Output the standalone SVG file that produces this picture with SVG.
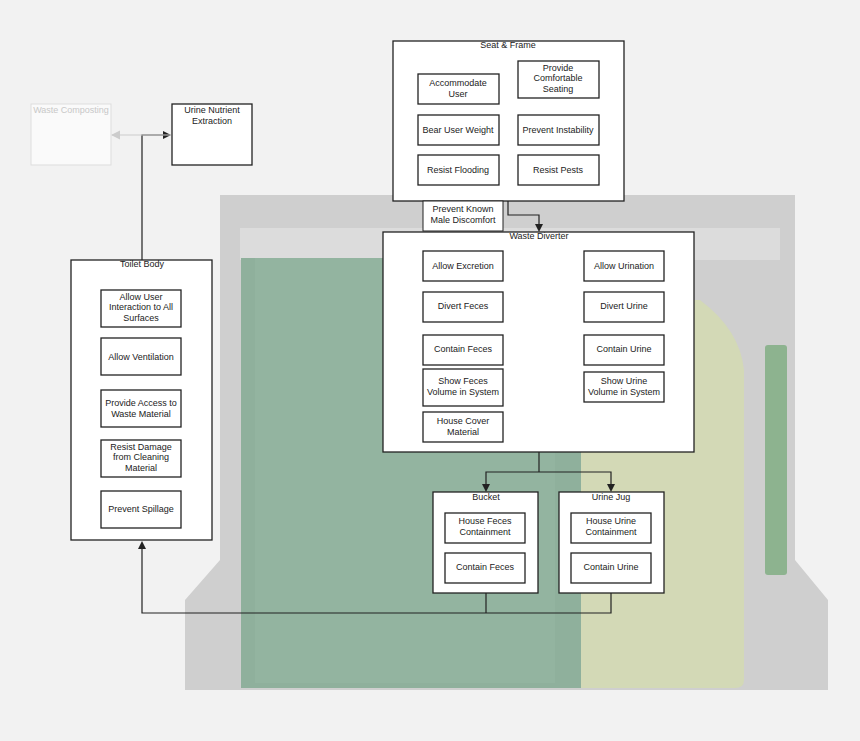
<svg xmlns="http://www.w3.org/2000/svg" width="860" height="741" viewBox="0 0 860 741">
<defs>
<style>
.b{fill:#fff;stroke:#222;stroke-width:1.3}
.t{font-family:"Liberation Sans",Arial,sans-serif;font-size:9px;fill:#222;text-anchor:middle}
.c{fill:none;stroke:#222;stroke-width:1.2}
</style>
<marker id="ag" viewBox="0 0 8 8" markerWidth="8" markerHeight="8" refX="7" refY="4" orient="auto"><path d="M0,0 L8,4 L0,8z" fill="#ccc"/></marker>
</defs>
<rect width="860" height="741" fill="#f2f2f2"/>
<g id="background">
<path d="M220,195 H795 V560 L828,600 V690 H185 V600 L220,560z" fill="#cfcfcf"/>
<rect x="240" y="228" width="540" height="32" fill="#dcdcdc"/>
<rect x="241" y="258" width="340" height="430" fill="#8fb09c"/>
<rect x="255" y="258" width="300" height="425" fill="#93b4a0"/>
<path d="M581,300 H700 Q740,330 744,370 V680 Q744,688 735,688 H581z" fill="#d3d9b6"/>
<rect x="765" y="345" width="22" height="230" rx="3" fill="#8db38f"/>
</g>
<g id="connectors">
<path class="c" d="M142,260 V135 H164"/>
<path d="M163,131 L171,135 L163,139z" fill="#222"/>
<path d="M171,135 H112" stroke="#ccc" stroke-width="1.2" marker-end="url(#ag)"/>
<path class="c" d="M508,201 V215 H539 V225"/>
<path d="M535,224 L543,224 L539,232z" fill="#222"/>
<path class="c" d="M539,452 V472 H486 V485 M539,472 H611 V485"/>
<path d="M482,484 L490,484 L486,492z M607,484 L615,484 L611,492z" fill="#222"/>
<path class="c" d="M486,593 V613 H142 V548 M611,593 V613 H486"/>
<path d="M138,549 L146,549 L142,541z" fill="#222"/>
</g>
<g id="waste-composting">
<rect x="31" y="104" width="80" height="61" fill="#fafafa" stroke="#ddd"/>
<text class="t" x="71" y="113" style="fill:#c8c8c8">Waste Composting</text>
</g>
<g id="urine-nutrient"><rect class="b" x="172" y="104" width="80" height="61"/><text class="t" x="212" y="113">Urine Nutrient</text><text class="t" x="212" y="124">Extraction</text></g>
<g id="seat-frame">
<rect class="b" x="393" y="41" width="231" height="160"/>
<text class="t" x="508" y="48">Seat &amp; Frame</text>
<rect class="b" x="418" y="74" width="81" height="30"/><text class="t" x="458" y="86">Accommodate</text><text class="t" x="458" y="97">User</text>
<rect class="b" x="518" y="61" width="81" height="37"/><text class="t" x="558" y="71">Provide</text><text class="t" x="558" y="81">Comfortable</text><text class="t" x="558" y="92">Seating</text>
<rect class="b" x="418" y="115" width="81" height="30"/><text class="t" x="458" y="133">Bear User Weight</text>
<rect class="b" x="518" y="115" width="81" height="30"/><text class="t" x="558" y="133">Prevent Instability</text>
<rect class="b" x="418" y="155" width="81" height="30"/><text class="t" x="458" y="173">Resist Flooding</text>
<rect class="b" x="518" y="155" width="81" height="30"/><text class="t" x="558" y="173">Resist Pests</text>
</g>
<g id="male-discomfort"><rect x="423" y="201" width="80" height="30" fill="#fff" stroke="#222" stroke-width="1"/><text class="t" x="463" y="212">Prevent Known</text><text class="t" x="463" y="223">Male Discomfort</text></g>
<g id="waste-diverter">
<rect class="b" x="383" y="232" width="311" height="220"/>
<text class="t" x="539" y="239">Waste Diverter</text>
<rect class="b" x="423" y="251" width="80" height="30"/><text class="t" x="463" y="269">Allow Excretion</text>
<rect class="b" x="584" y="251" width="80" height="30"/><text class="t" x="624" y="269">Allow Urination</text>
<rect class="b" x="423" y="292" width="80" height="30"/><text class="t" x="463" y="309">Divert Feces</text>
<rect class="b" x="584" y="292" width="80" height="30"/><text class="t" x="624" y="309">Divert Urine</text>
<rect class="b" x="423" y="335" width="80" height="30"/><text class="t" x="463" y="352">Contain Feces</text>
<rect class="b" x="584" y="335" width="80" height="30"/><text class="t" x="624" y="352">Contain Urine</text>
<rect class="b" x="423" y="369" width="80" height="37"/><text class="t" x="463" y="384">Show Feces</text><text class="t" x="463" y="395">Volume in System</text>
<rect class="b" x="584" y="372" width="80" height="30"/><text class="t" x="624" y="384">Show Urine</text><text class="t" x="624" y="395">Volume in System</text>
<rect class="b" x="423" y="412" width="80" height="30"/><text class="t" x="463" y="424">House Cover</text><text class="t" x="463" y="435">Material</text>
</g>
<g id="bucket">
<rect class="b" x="433" y="492" width="105" height="101"/>
<text class="t" x="486" y="500">Bucket</text>
<rect class="b" x="445" y="513" width="80" height="30"/><text class="t" x="485" y="524">House Feces</text><text class="t" x="485" y="535">Containment</text>
<rect class="b" x="445" y="553" width="80" height="30"/><text class="t" x="485" y="570">Contain Feces</text>
</g>
<g id="urine-jug">
<rect class="b" x="559" y="492" width="105" height="101"/>
<text class="t" x="611" y="500">Urine Jug</text>
<rect class="b" x="571" y="513" width="80" height="30"/><text class="t" x="611" y="524">House Urine</text><text class="t" x="611" y="535">Containment</text>
<rect class="b" x="571" y="553" width="80" height="30"/><text class="t" x="611" y="570">Contain Urine</text>
</g>
<g id="toilet-body">
<rect class="b" x="71" y="260" width="141" height="280"/>
<text class="t" x="142" y="267">Toilet Body</text>
<rect class="b" x="101" y="290" width="80" height="37"/><text class="t" x="141" y="300">Allow User</text><text class="t" x="141" y="310">Interaction to All</text><text class="t" x="141" y="321">Surfaces</text>
<rect class="b" x="101" y="338" width="80" height="37"/><text class="t" x="141" y="360">Allow Ventilation</text>
<rect class="b" x="101" y="390" width="80" height="37"/><text class="t" x="141" y="406">Provide Access to</text><text class="t" x="141" y="417">Waste Material</text>
<rect class="b" x="101" y="440" width="80" height="37"/><text class="t" x="141" y="450">Resist Damage</text><text class="t" x="141" y="460">from Cleaning</text><text class="t" x="141" y="471">Material</text>
<rect class="b" x="101" y="491" width="80" height="37"/><text class="t" x="141" y="512">Prevent Spillage</text>
</g>
</svg>
